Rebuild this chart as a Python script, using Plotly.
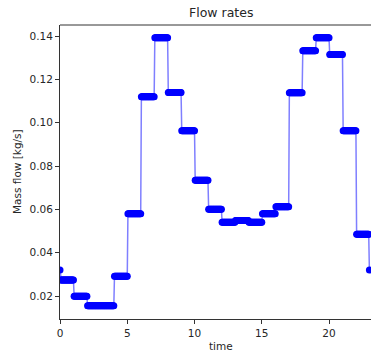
import numpy as np
import plotly.graph_objects as go

# Data: hourly mass flow [kg/s]; value at t=0 plus one value per hour interval (h, h+1]
start_value = 0.032
hours = list(range(23))
hour_values = [0.0274, 0.0199, 0.0155, 0.0155, 0.0291, 0.058, 0.112, 0.1392, 0.114,
               0.0963, 0.0734, 0.060, 0.054, 0.0549, 0.054, 0.058, 0.0612, 0.1138,
               0.1332, 0.1392, 0.1315, 0.0963, 0.0485]
end_value = 0.032
x_ticks = [0, 5, 10, 15, 20]
y_ticks = [0.02, 0.04, 0.06, 0.08, 0.10, 0.12, 0.14]

# expand hourly values into sub-hourly samples (each hour held constant)
sub = 20
t = [0.0]
y = [start_value]
for h, v in zip(hours, hour_values):
    for k in range(1, sub + 1):
        t.append(h + k / sub)
        y.append(v)
y[-1] = end_value

W, H = 371, 354
ml, mr, mt, mb = 60, 0, 25, 35
pw = W - ml - mr
center_px = 221
cx = (center_px - ml) / pw

fig = go.Figure()
fig.add_trace(go.Scatter(
    x=t, y=y, mode="lines+markers",
    line=dict(color="rgba(0,0,255,0.5)", width=1.5),
    marker=dict(color="#0000ff", size=7),
    showlegend=False,
))

font = dict(family="DejaVu Sans", size=10.5, color="#262626")
fig.update_layout(
    width=W, height=H,
    margin=dict(l=ml, r=mr, t=mt, b=mb),
    paper_bgcolor="white", plot_bgcolor="white",
    font=font,
    xaxis=dict(range=[0, 23.12], tickvals=x_ticks, ticks="outside", ticklen=4,
               tickcolor="#333", showline=True, linecolor="#333", linewidth=1,
               mirror=False, showgrid=False, zeroline=False),
    yaxis=dict(range=[0.0094, 0.1451], tickvals=y_ticks, tickformat=".2f",
               ticks="outside", ticklen=4, tickcolor="#333", showline=True,
               linecolor="#333", linewidth=1, showgrid=False, zeroline=False),
    shapes=[dict(type="line", xref="paper", yref="paper", x0=0, x1=1, y0=1, y1=1,
                 line=dict(color="#333", width=1))],
    annotations=[
        dict(text="Flow rates", xref="paper", yref="paper", x=cx, y=1, yshift=13,
             xanchor="center", yanchor="middle", showarrow=False,
             font=dict(family="DejaVu Sans", size=12.5, color="#262626")),
        dict(text="time", xref="paper", yref="paper", x=cx, y=0, yshift=-27,
             xanchor="center", yanchor="middle", showarrow=False,
             font=dict(family="DejaVu Sans", size=10.5, color="#262626")),
        dict(text="Mass flow [kg/s]", xref="paper", yref="paper",
             x=(17 - ml) / pw, y=0.5, textangle=-90,
             xanchor="center", yanchor="middle", showarrow=False,
             font=dict(family="DejaVu Sans", size=10.5, color="#262626")),
    ],
)

fig.write_html("out.html")
